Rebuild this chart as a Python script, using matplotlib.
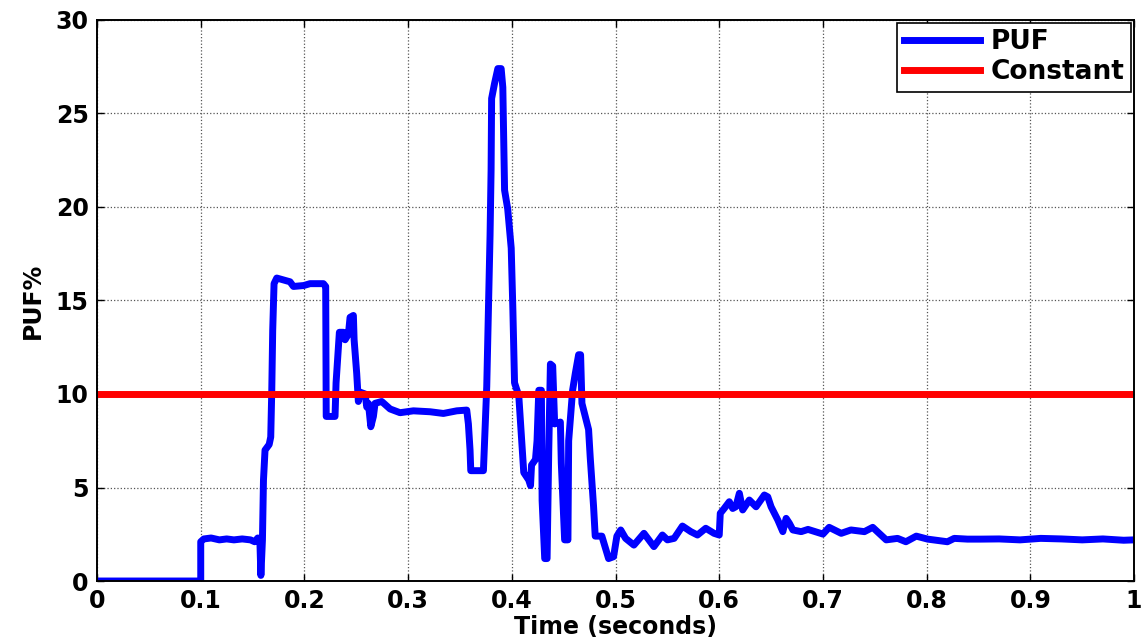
import matplotlib
matplotlib.use('Agg')
import matplotlib.pyplot as plt

# PUF% trace (time in s, value in %)
t = [0.000, 0.100, 0.100, 0.103, 0.110, 0.118, 0.125, 0.132, 0.140, 0.148,
     0.152, 0.155, 0.157, 0.158, 0.1595, 0.1605, 0.162, 0.166, 0.1675, 0.1685,
     0.1694, 0.1707, 0.1733, 0.1797, 0.1861, 0.1894, 0.1993, 0.2054, 0.2183, 0.2205,
     0.221, 0.2295, 0.2305, 0.2328, 0.2337, 0.2376, 0.2392, 0.2424, 0.244, 0.2472,
     0.2479, 0.2504, 0.252, 0.2536, 0.2585, 0.2601, 0.2617, 0.264, 0.2665, 0.2681,
     0.2745, 0.2826, 0.2922, 0.3051, 0.3212, 0.334, 0.3469, 0.3565, 0.3581, 0.3597,
     0.3604, 0.3726, 0.3742, 0.3758, 0.3774, 0.379, 0.380, 0.3805, 0.3833, 0.3865,
     0.3897, 0.3913, 0.392, 0.393, 0.396, 0.3994, 0.401, 0.4026, 0.4067, 0.4099,
     0.4115, 0.4163, 0.418, 0.419, 0.4228, 0.4243, 0.426, 0.4285, 0.4292, 0.4317,
     0.434, 0.4356, 0.4372, 0.4394, 0.4413, 0.4468, 0.4477, 0.4509, 0.4541, 0.4548,
     0.4586, 0.4612, 0.4644, 0.4663, 0.4676, 0.4708, 0.474, 0.4756, 0.4788, 0.4804,
     0.4868, 0.490, 0.4933, 0.4981, 0.5013, 0.505, 0.5097, 0.5177, 0.5274, 0.537,
     0.5452, 0.550, 0.5565, 0.5645, 0.5726, 0.579, 0.587, 0.595, 0.600, 0.601,
     0.6048, 0.6097, 0.613, 0.616, 0.6194, 0.6226, 0.629, 0.6355, 0.6435, 0.6468,
     0.650, 0.6532, 0.6565, 0.6613, 0.6645, 0.6677, 0.671, 0.679, 0.6856, 0.700,
     0.706, 0.7176, 0.727, 0.740, 0.748, 0.761, 0.772, 0.780, 0.790, 0.801,
     0.820, 0.8266, 0.8394, 0.852, 0.870, 0.890, 0.910, 0.930, 0.950, 0.970,
     0.990, 1.000]
puf = [0.0, 0.0, 2.1, 2.25, 2.3, 2.2, 2.25, 2.2, 2.25, 2.2,
       2.1, 2.3, 2.2, 0.3, 2.2, 5.4, 7.0, 7.3, 7.7, 10.2,
       13.4, 15.9, 16.2, 16.1, 16.0, 15.75, 15.8, 15.9, 15.9, 15.75,
       8.8, 8.8, 10.6, 12.5, 13.3, 13.3, 12.9, 13.2, 14.1, 14.2,
       12.9, 11.1, 9.6, 10.1, 10.0, 9.3, 9.5, 8.25, 8.8, 9.5,
       9.6, 9.2, 9.0, 9.1, 9.05, 8.96, 9.1, 9.14, 8.4, 7.0,
       5.9, 5.9, 8.1, 10.4, 14.5, 18.5, 22.0, 25.8, 26.6, 27.4,
       27.4, 26.4, 24.0, 20.9, 19.9, 17.8, 14.5, 10.6, 9.9, 7.2,
       5.8, 5.4, 5.1, 6.2, 6.5, 7.5, 10.2, 10.2, 4.3, 1.2,
       1.2, 7.0, 11.6, 11.5, 8.4, 8.5, 6.3, 2.2, 2.2, 7.5,
       10.2, 11.1, 12.1, 12.1, 9.5, 8.8, 8.1, 6.6, 4.0, 2.4,
       2.4, 1.8, 1.2, 1.3, 2.4, 2.73, 2.28, 1.92, 2.55, 1.84,
       2.46, 2.2, 2.28, 2.94, 2.64, 2.46, 2.82, 2.55, 2.46, 3.62,
       3.88, 4.24, 3.88, 3.97, 4.69, 3.8, 4.33, 3.97, 4.6, 4.5,
       3.97, 3.62, 3.26, 2.64, 3.35, 3.08, 2.73, 2.64, 2.76, 2.51,
       2.87, 2.55, 2.73, 2.64, 2.87, 2.2, 2.28, 2.1, 2.4, 2.24,
       2.1, 2.28, 2.24, 2.24, 2.25, 2.2, 2.28, 2.25, 2.2, 2.25,
       2.18, 2.2]
constant_t = [0.0, 1.0]
constant_v = [10.0, 10.0]

plt.rcParams['font.family'] = ['DejaVu Sans']
plt.rcParams['font.weight'] = 'bold'

fig = plt.figure(figsize=(11.47, 6.44), dpi=100)
ax = fig.add_axes([0.0846, 0.0978, 0.9041, 0.8712])

ax.plot(t, puf, color='#0000ff', lw=5.0, solid_joinstyle='round', label='PUF')
ax.plot(constant_t, constant_v, color='#ff0000', lw=5.0, label='Constant')

ax.set_xlim(0, 1)
ax.set_ylim(0, 30)
ax.set_xticks([0, 0.1, 0.2, 0.3, 0.4, 0.5, 0.6, 0.7, 0.8, 0.9, 1])
ax.set_xticklabels(['0', '0.1', '0.2', '0.3', '0.4', '0.5', '0.6', '0.7', '0.8', '0.9', '1'])
ax.set_yticks([0, 5, 10, 15, 20, 25, 30])
ax.grid(True, color='#555555', linestyle=':', lw=0.9)
ax.tick_params(direction='in', length=5, width=1, top=True, right=True,
               labelsize=17, pad=6)
for s in ax.spines.values():
    s.set_linewidth(1.4)

ax.set_xlabel('Time (seconds)', fontsize=17, fontweight='bold', labelpad=1)
ax.set_ylabel('PUF%', fontsize=17, fontweight='bold', labelpad=8)

leg = ax.legend(loc='upper right', fontsize=19, frameon=True, fancybox=False,
                framealpha=1, edgecolor='black', borderaxespad=0.1,
                handlelength=2.9, handletextpad=0.4, borderpad=0.25,
                labelspacing=0.15)
leg.get_frame().set_linewidth(1.2)
for txt in leg.get_texts():
    txt.set_fontweight('bold')

fig.savefig('out.png', dpi=100)
